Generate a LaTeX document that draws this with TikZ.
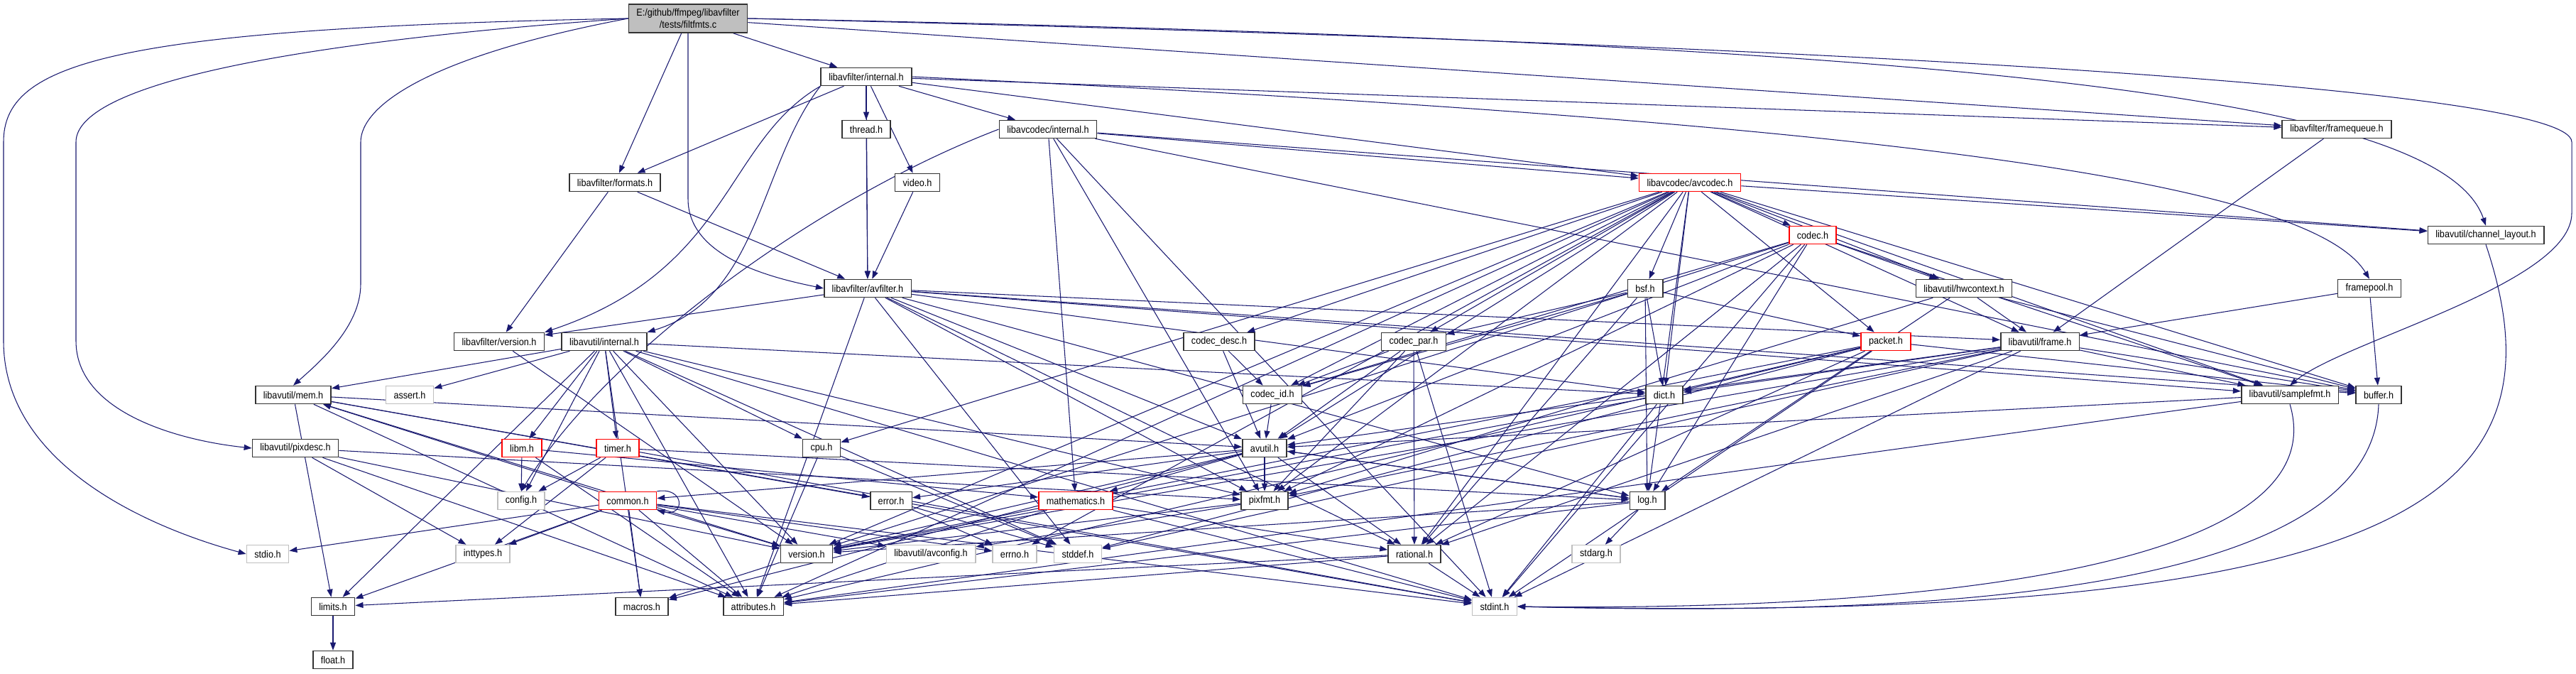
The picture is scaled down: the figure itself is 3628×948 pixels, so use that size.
\documentclass[tikz,border=0pt]{standalone}
\usepackage{fontspec}
\setmainfont{Liberation Sans}[FakeStretch=0.9]
\usetikzlibrary{arrows.meta,backgrounds}
\definecolor{depblue}{RGB}{25,25,112}
\definecolor{sysgrey}{RGB}{191,191,191}
\definecolor{cutred}{RGB}{255,0,0}
\definecolor{mainfill}{RGB}{191,191,191}

\tikzset{
  file/.style={draw=black!80, line width=0.45pt, fill=white, minimum height=2.5mm,
    inner xsep=1.1mm, inner ysep=0pt, font=\fontsize{4pt}{4.6pt}\selectfont},
  sysfile/.style={file, draw=sysgrey},
  cutfile/.style={file, draw=cutred},
  mainfile/.style={file, fill=mainfill, minimum height=4mm, align=center},
  dep/.style={draw=depblue, line width=0.3pt, -{Triangle[length=1.1mm,width=0.8mm]}}
}

\begin{document}
\begin{tikzpicture}[x=0.1mm, y=-0.1mm]
    \useasboundingbox (0,0) rectangle (3628,948);
    % files, row by row
    \node[mainfile] (root) at (969,26) {E:/github/ffmpeg/libavfilter\\/tests/filtfmts.c};
    \node[file] (afint) at (1220,108) {libavfilter/internal.h};
    \node[file] (thread) at (1220,182) {thread.h};
    \node[file] (acint) at (1476,182) {libavcodec/internal.h};
    \node[file] (fqueue) at (3291,182) {libavfilter/framequeue.h};
    \node[file] (formats) at (866,257) {libavfilter/formats.h};
    \node[file] (video) at (1292,257) {video.h};
    \node[cutfile] (avcodec) at (2380,257) {libavcodec/avcodec.h};
    \node[cutfile] (codec) at (2553,331) {codec.h};
    \node[file] (chlayout) at (3501,331) {libavutil/channel\_layout.h};
    \node[file] (avfilter) at (1222,406) {libavfilter/avfilter.h};
    \node[file] (bsf) at (2317,406) {bsf.h};
    \node[file] (hwctx) at (2766,406) {libavutil/hwcontext.h};
    \node[file] (fpool) at (3337,406) {framepool.h};
    \node[file] (afver) at (703,481) {libavfilter/version.h};
    \node[file] (auint) at (851,481) {libavutil/internal.h};
    \node[file] (cdesc) at (1717,481) {codec\_desc.h};
    \node[file] (cpar) at (1991,481) {codec\_par.h};
    \node[cutfile] (packet) at (2656,481) {packet.h};
    \node[file] (frame) at (2873,481) {libavutil/frame.h};
    \node[file] (mem) at (413,556) {libavutil/mem.h};
    \node[sysfile] (assert) at (577,556) {assert.h};
    \node[file] (cid) at (1792,556) {codec\_id.h};
    \node[file] (dict) at (2344,556) {dict.h};
    \node[file] (sfmt) at (3225,556) {libavutil/samplefmt.h};
    \node[file] (buffer) at (3350,556) {buffer.h};
    \node[file] (pixdesc) at (416,631) {libavutil/pixdesc.h};
    \node[cutfile] (libm) at (735,631) {libm.h};
    \node[cutfile] (timer) at (870,631) {timer.h};
    \node[file] (cpu) at (1157,631) {cpu.h};
    \node[file] (avutil) at (1781,631) {avutil.h};
    \node[sysfile] (config) at (734,705) {config.h};
    \node[cutfile] (common) at (884,705) {common.h};
    \node[file] (error) at (1255,705) {error.h};
    \node[cutfile] (math) at (1515,705) {mathematics.h};
    \node[file] (pixfmt) at (1781,705) {pixfmt.h};
    \node[file] (log) at (2320,705) {log.h};
    \node[sysfile] (stdio) at (377,780) {stdio.h};
    \node[sysfile] (inttypes) at (680,780) {inttypes.h};
    \node[file] (version) at (1136,780) {version.h};
    \node[sysfile] (avconfig) at (1311,780) {libavutil/avconfig.h};
    \node[sysfile] (errno) at (1429,780) {errno.h};
    \node[sysfile] (stddef) at (1518,780) {stddef.h};
    \node[file] (rational) at (1992,780) {rational.h};
    \node[sysfile] (stdarg) at (2248,780) {stdarg.h};
    \node[file] (limits) at (469,854) {limits.h};
    \node[file] (macros) at (904,854) {macros.h};
    \node[file] (attr) at (1061,854) {attributes.h};
    \node[sysfile] (stdint) at (2105,854) {stdint.h};
    \node[file] (float) at (469,929) {float.h};

    \begin{scope}[on background layer]
    \fill[white] (0,0) rectangle (3628,948);
    % includes of the test file
    \draw[dep] (root.west) .. controls (150,40) and (5,90) .. (5,200) -- (5,480)
      .. controls (5,650) and (200,740) .. (stdio.west);
    \draw[dep] (root.west) .. controls (400,60) and (107,120) .. (107,200) -- (107,480)
      .. controls (107,580) and (250,620) .. (pixdesc.west);
    \draw[dep] (root.west) .. controls (600,80) and (508,150) .. (508,200) -- (508,400)
      .. controls (508,460) and (450,510) .. (mem.north);
    \draw[dep] (root.south) -- (969,280) .. controls (969,360) and (1080,390) .. (avfilter.west);
    \draw[dep] (root.east) .. controls (2500,60) and (3622,120) .. (3622,200) -- (3622,300)
      .. controls (3622,400) and (3300,480) .. (sfmt.north);
    \draw[dep] (root.east) .. controls (2800,60) and (3440,140) .. (chlayout.north);
    \foreach \t in {formats,afint,fqueue}
      \draw[dep] (root) -- (\t);
    % libavfilter
    \foreach \t in {thread,video,avfilter,formats,acint,avcodec,fqueue}
      \draw[dep] (afint) -- (\t);
    \draw[dep] (afint.east) .. controls (2600,170) and (3250,250) .. (fpool.north);
    \draw[dep] (afint.south west) .. controls (1020,200) and (1030,380) .. (afver.north east);
    \draw[dep] (afint.south west) .. controls (1070,230) and (1070,420) .. (auint.north east);
    \draw[dep] (thread) -- (avfilter);
    \draw[dep] (video) -- (avfilter);
    \foreach \t in {afver,avfilter}
      \draw[dep] (formats) -- (\t);
    \draw[dep] (fqueue) -- (frame);
    \foreach \t in {buffer,frame}
      \draw[dep] (fpool) -- (\t);
    \foreach \t in {stddef,attr,avutil,buffer,dict,frame,log,sfmt,pixfmt,rational,afver}
      \draw[dep] (avfilter) -- (\t);
    \draw[dep] (afver) -- (version);
    % libavcodec
    \foreach \t in {stdint,buffer,chlayout,math,pixfmt,avcodec}
      \draw[dep] (acint) -- (\t);
    \draw[dep] (acint.west) .. controls (1150,280) and (850,500) .. (config.north);
    \foreach \t in {errno,sfmt,attr,avutil,buffer,cpu,chlayout,dict,frame,hwctx,log,pixfmt,rational,bsf,codec,cdesc,cpar,cid,packet,version}
      \draw[dep] (avcodec) -- (\t);
    \foreach \t in {stdint,avutil,hwctx,log,pixfmt,rational,sfmt,cid,version}
      \draw[dep] (codec) -- (\t);
    \foreach \t in {dict,log,rational,cid,cpar,packet}
      \draw[dep] (bsf) -- (\t);
    \foreach \t in {avutil,cid}
      \draw[dep] (cdesc) -- (\t);
    \foreach \t in {stdint,avutil,rational,pixfmt,cid}
      \draw[dep] (cpar) -- (\t);
    \foreach \t in {stddef,stdint,attr,buffer,dict,rational,version}
      \draw[dep] (packet) -- (\t);
    \draw[dep] (cid) -- (avutil);
    % libavutil
    \foreach \t in {buffer,frame,log,pixfmt}
      \draw[dep] (hwctx) -- (\t);
    \foreach \t in {stddef,stdint,avutil,buffer,dict,rational,sfmt,pixfmt,version}
      \draw[dep] (frame) -- (\t);
    \foreach \t in {limits,stdint,stddef,assert,config,attr,timer,cpu,dict,macros,mem,pixfmt,version,libm}
      \draw[dep] (auint) -- (\t);
    \foreach \t in {limits,stdint,attr,error,avutil,version}
      \draw[dep] (mem) -- (\t);
    \foreach \t in {stdint,version}
      \draw[dep] (dict) -- (\t);
    \foreach \t in {avutil,attr}
      \draw[dep] (sfmt) -- (\t);
    \draw[dep] (sfmt.south) .. controls (3300,820) and (2600,860) .. (stdint.east);
    \draw[dep] (buffer.south) .. controls (3340,860) and (2600,865) .. (stdint.east);
    \draw[dep] (chlayout.south) .. controls (3620,700) and (3400,880) .. (stdint.east);
    \foreach \t in {inttypes,attr,pixfmt,version}
      \draw[dep] (pixdesc) -- (\t);
    \foreach \t in {config,attr,math}
      \draw[dep] (libm) -- (\t);
    \foreach \t in {config,inttypes,stdint,log}
      \draw[dep] (timer) -- (\t);
    \foreach \t in {stddef,attr}
      \draw[dep] (cpu) -- (\t);
    \foreach \t in {common,error,rational,version,macros,math,log,pixfmt}
      \draw[dep] (avutil) -- (\t);
    \foreach \t in {stdio,inttypes,limits,macros,attr,stdint,version,avconfig,errno,mem}
      \draw[dep] (common) -- (\t);
    \draw[dep] (common.north east) .. controls (965,685) and (965,728) .. (common.south east);
    \foreach \t in {errno,stddef}
      \draw[dep] (error) -- (\t);
    \foreach \t in {stdint,attr,rational}
      \draw[dep] (math) -- (\t);
    \foreach \t in {avconfig,version}
      \draw[dep] (pixfmt) -- (\t);
    \foreach \t in {stdarg,avutil,attr,version}
      \draw[dep] (log) -- (\t);
    \draw[dep] (version) -- (macros);
    \foreach \t in {stdint,limits,attr}
      \draw[dep] (rational) -- (\t);
    \draw[dep] (limits) -- (float);
    \end{scope}
  \end{tikzpicture}
\end{document}
